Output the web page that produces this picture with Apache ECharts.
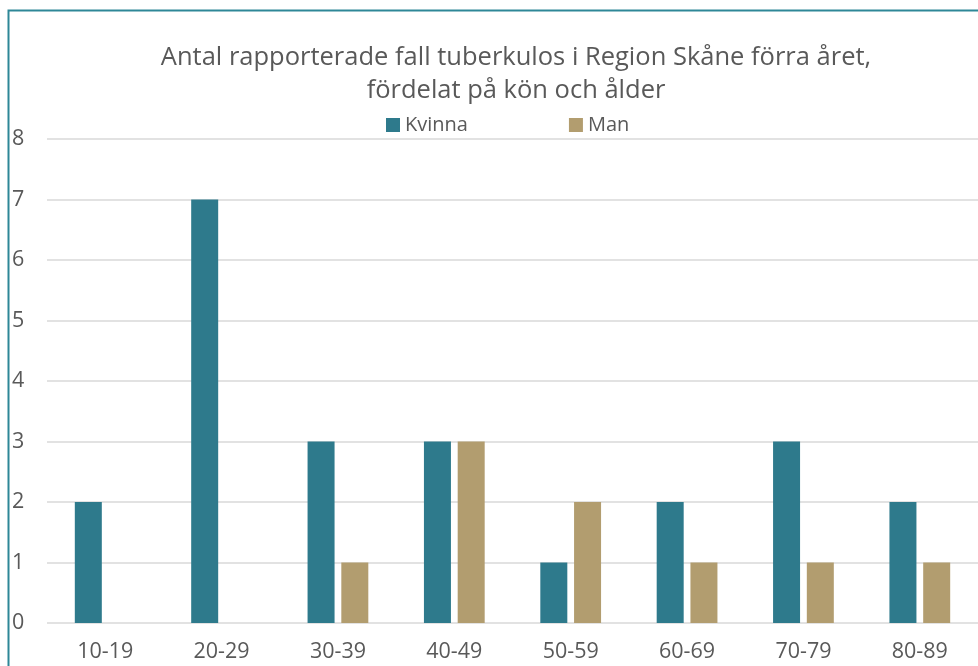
<!DOCTYPE html>
<html>
<head>
<meta charset="utf-8">
<script src="https://cdn.jsdelivr.net/npm/echarts@6/dist/echarts.min.js"></script>
<style>
  html, body { margin: 0; padding: 0; background: #fff; }
  #chart { width: 978px; height: 666px; }
</style>
</head>
<body>
<div id="chart"></div>
<script>
// data
const ageGroups = ['10-19', '20-29', '30-39', '40-49', '50-59', '60-69', '70-79', '80-89'];
const kvinna = [2, 7, 3, 3, 1, 2, 3, 2];
const man = [null, null, 1, 3, 2, 1, 1, 1];
const titleText = 'Antal rapporterade fall tuberkulos i Region Skåne förra året,\nfördelat på kön och ålder';

const colors = ['#2E7A8C', '#B29D6F'];
const fontName = 'Open Sans';

const myChart = echarts.init(document.getElementById('chart'));
const option = {
  color: colors,
  animation: false,
  textStyle: { fontFamily: fontName },
  title: {
    text: titleText,
    left: 511,
    top: 36,
    textAlign: 'center',
    textStyle: {
      fontFamily: fontName,
      fontSize: 25.5,
      fontWeight: 'normal',
      color: '#595959',
      lineHeight: 33
    }
  },
  legend: {
    left: 381,
    top: 110,
    itemWidth: 14,
    itemHeight: 14,
    itemGap: 101,
    icon: 'rect',
    textStyle: { fontFamily: fontName, fontSize: 20, color: '#595959' },
    data: ['Kvinna', 'Man']
  },
  grid: {
    left: 47,
    right: -7,
    top: 139,
    bottom: 43,
    containLabel: false
  },
  xAxis: {
    type: 'category',
    data: ageGroups,
    axisLine: { show: false },
    axisTick: { show: false },
    axisLabel: { fontFamily: fontName, fontSize: 21.5, color: '#595959', margin: 18 }
  },
  yAxis: {
    type: 'value',
    min: 0,
    max: 8,
    interval: 1,
    axisLine: { show: false },
    axisTick: { show: false },
    splitLine: { lineStyle: { color: '#D9D9D9', width: 1.5 } },
    axisLabel: { fontFamily: fontName, fontSize: 21.5, color: '#595959', margin: 35, align: 'left' }
  },
  graphic: [{
    type: 'rect',
    shape: { x: 8.5, y: 10.5, width: 1100, height: 800 },
    style: { fill: 'none', stroke: '#2E8797', lineWidth: 2 },
    silent: true
  }],
  series: [
    { name: 'Kvinna', type: 'bar', data: kvinna, barWidth: 27, barGap: '25%' },
    { name: 'Man', type: 'bar', data: man, barWidth: 27, barGap: '25%' }
  ]
};
option && myChart.setOption(option);
</script>
</body>
</html>
